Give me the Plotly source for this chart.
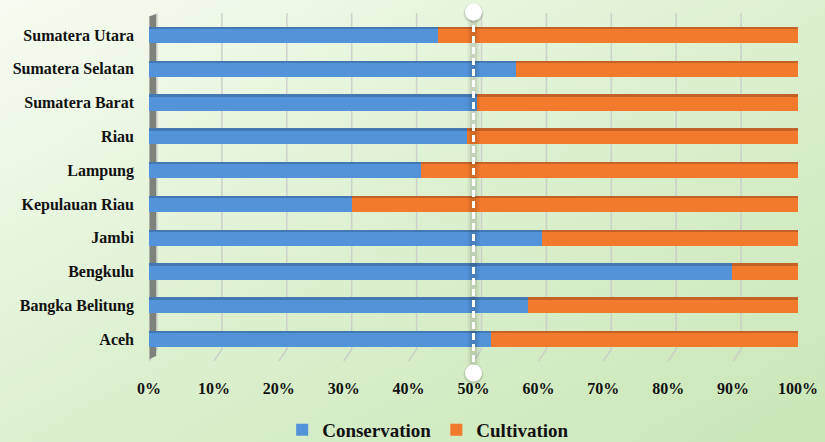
import base64
import plotly.graph_objects as go

# Provinces (bottom to top) and share of land by use, in percent
provinces = ["Aceh", "Bangka Belitung", "Bengkulu", "Jambi", "Kepulauan Riau",
             "Lampung", "Riau", "Sumatera Barat", "Sumatera Selatan", "Sumatera Utara"]
conservation = [52.7, 58.4, 89.8, 60.6, 31.3, 41.9, 49.0, 50.5, 56.5, 44.5]
cultivation = [round(100 - v, 1) for v in conservation]
x_ticks = list(range(0, 101, 10))
x_tick_labels = [f"{t}%" for t in x_ticks]
marker_value = 50

W, H = 825, 442
L, R, T, B = 149, 27, 18, 86
pw, ph = W - L - R, H - T - B

FONT = "Liberation Serif"
BLUE, BLUE_TOP = "#5393da", "#3f6fa6"
ORANGE, ORANGE_TOP = "#f27a2c", "#b35a25"

# soft green gradient background
svg = f"""<svg xmlns='http://www.w3.org/2000/svg' width='{W}' height='{H}'>
<defs><linearGradient id='g' x1='0' y1='0' x2='1' y2='1'>
<stop offset='0' stop-color='rgb(247,252,242)'/>
<stop offset='0.5' stop-color='rgb(220,240,207)'/>
<stop offset='1' stop-color='rgb(201,231,183)'/>
</linearGradient></defs>
<rect width='{W}' height='{H}' fill='url(#g)'/></svg>"""
bg_src = "data:image/svg+xml;base64," + base64.b64encode(svg.encode()).decode()

fig = go.Figure()
bw = 0.48
for name, vals, base, col, top in [
    ("Conservation", conservation, [0] * len(provinces), BLUE, BLUE_TOP),
    ("Cultivation", cultivation, conservation, ORANGE, ORANGE_TOP),
]:
    fig.add_trace(go.Bar(y=provinces, x=vals, base=base, orientation="h", name=name,
                         marker=dict(color=col, line=dict(width=0)),
                         width=bw, offset=-bw / 2))
    # darker bevel along the upper edge of each bar
    fig.add_trace(go.Bar(y=provinces, x=vals, base=base, orientation="h", showlegend=False,
                         marker=dict(color=top, opacity=0.75, line=dict(width=0)),
                         width=0.07, offset=bw / 2 - 0.07, hoverinfo="skip"))

shapes = []
dx = 8 / pw * 100  # depth offset of the back wall, in axis units
for t in x_ticks:
    shapes.append(dict(type="path", xref="x", yref="paper",
                       path=f"M {t + dx},1.015 L {t + dx},0.02 L {t},-0.015",
                       line=dict(color="rgba(200,200,200,0.8)", width=1.5), layer="below"))
# left side wall
shapes.append(dict(type="path", xref="x", yref="paper",
                   path=f"M {-0.6},1.0 L {dx * 0.9},1.012 L {dx * 0.9},0.0 L {-0.6},-0.015 Z",
                   fillcolor="#7d827b", line=dict(width=0), layer="below"))
shapes.append(dict(type="path", xref="x", yref="paper",
                   path=f"M {-0.6},1.0 L {0.1},1.003 L {0.1},-0.012 L {-0.6},-0.015 Z",
                   fillcolor="#c4c8c1", line=dict(width=0), layer="below"))

# 50% reference line with a soft shadow and round end caps
y_top = 1 + (T - 12) / ph
y_bot = -(373 - (T + ph)) / ph
for w, c in [(12, "rgba(0,0,0,0.05)"), (7, "rgba(0,0,0,0.08)")]:
    shapes.append(dict(type="line", xref="x", yref="paper", x0=marker_value, x1=marker_value,
                       y0=y_bot, y1=y_top, line=dict(color=c, width=w)))
shapes.append(dict(type="line", xref="x", yref="paper", x0=marker_value, x1=marker_value,
                   y0=y_bot, y1=y_top, line=dict(color="white", width=3, dash="7px,4px")))
r = 8.5
for yc in (y_top, y_bot):
    shapes.append(dict(type="circle", xref="x", yref="paper", xsizemode="pixel", ysizemode="pixel",
                       xanchor=marker_value, yanchor=yc, x0=-r - 1.5, x1=r + 1.5, y0=-r - 2.5, y1=r,
                       fillcolor="rgba(0,0,0,0.12)", line=dict(width=0)))
    shapes.append(dict(type="circle", xref="x", yref="paper", xsizemode="pixel", ysizemode="pixel",
                       xanchor=marker_value, yanchor=yc, x0=-r, x1=r, y0=-r, y1=r,
                       fillcolor="white", line=dict(width=0)))

fig.update_layout(
    width=W, height=H, margin=dict(l=L, r=R, t=T, b=B, autoexpand=False),
    barmode="overlay", bargap=0,
    paper_bgcolor="#dcefcf", plot_bgcolor="rgba(0,0,0,0)",
    images=[dict(source=bg_src, xref="paper", yref="paper", x=-L / pw, y=1 + T / ph,
                 sizex=W / pw, sizey=H / ph, sizing="stretch", layer="below")],
    shapes=shapes,
    font=dict(family=FONT, color="#111111"),
    xaxis=dict(range=[0, 100], tickvals=x_ticks, ticktext=x_tick_labels, showgrid=False,
               zeroline=False, showline=False, ticks="", ticklabelstandoff=21, automargin=False,
               tickfont=dict(size=16, family=FONT, weight="bold", color="#111111")),
    yaxis=dict(categoryorder="array", categoryarray=provinces, showgrid=False, zeroline=False,
               showline=False, ticks="", ticklabelstandoff=14, automargin=False,
               tickfont=dict(size=16, family=FONT, weight="bold", color="#111111")),
    legend=dict(orientation="h", xref="container", yref="paper", x=0.519, xanchor="center",
                y=-(430 - (T + ph)) / ph, yanchor="middle",
                font=dict(size=19, family=FONT, weight="bold"),
                itemwidth=30, traceorder="normal", bgcolor="rgba(0,0,0,0)"),
    showlegend=True,
)

fig.write_html("out.html")
